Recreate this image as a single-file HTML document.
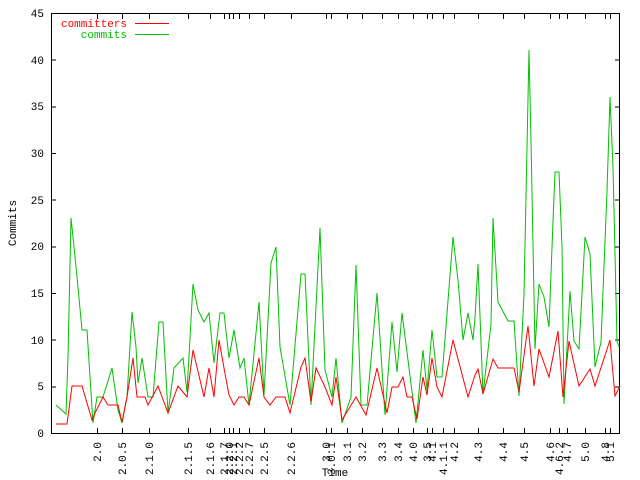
<!DOCTYPE html>
<html><head><meta charset="utf-8"><style>
html,body{margin:0;padding:0;background:#fff;}
svg{display:block;font-family:"Liberation Mono",monospace;font-size:11px;}
</style></head><body>
<svg width="640" height="480" viewBox="0 0 640 480" xmlns="http://www.w3.org/2000/svg">
<rect width="640" height="480" fill="#fff"/>
<g stroke="#000" stroke-width="1" fill="none" shape-rendering="crispEdges">
<rect x="51.5" y="13.5" width="568" height="420"/>
<path d="M51 433.5h5M51 386.8h5M51 340.2h5M51 293.5h5M51 246.8h5M51 200.2h5M51 153.5h5M51 106.8h5M51 60.2h5M51 13.5h5
M620 386.8h-5M620 340.2h-5M620 293.5h-5M620 246.8h-5M620 200.2h-5M620 153.5h-5M620 106.8h-5M620 60.2h-5"/>
<path d="M97.5 433v-5M122.5 433v-5M149.5 433v-5M188.5 433v-5M210.5 433v-5M224.5 433v-5M229.5 433v-5M233.5 433v-5M239.5 433v-5M249.5 433v-5M264.5 433v-5M291.5 433v-5M326.5 433v-5M331.5 433v-5M347.5 433v-5M362.5 433v-5M382.5 433v-5M398.5 433v-5M413.5 433v-5M427.5 433v-5M432.5 433v-5M443.5 433v-5M454.5 433v-5M478.5 433v-5M503.5 433v-5M524.5 433v-5M550.5 433v-5M559.5 433v-5M567.5 433v-5M585.5 433v-5M605.5 433v-5M610.5 433v-5
M97.5 14v5M122.5 14v5M149.5 14v5M188.5 14v5M210.5 14v5M224.5 14v5M229.5 14v5M233.5 14v5M239.5 14v5M249.5 14v5M264.5 14v5M291.5 14v5M326.5 14v5M331.5 14v5M347.5 14v5M362.5 14v5M382.5 14v5M398.5 14v5M413.5 14v5M427.5 14v5M432.5 14v5M443.5 14v5M454.5 14v5M478.5 14v5M503.5 14v5M524.5 14v5M550.5 14v5M559.5 14v5M567.5 14v5M585.5 14v5M605.5 14v5M610.5 14v5"/>
</g>
<g text-anchor="end" fill="#000">
<text x="44" y="437">0</text><text x="44" y="390">5</text><text x="44" y="344">10</text><text x="44" y="297">15</text><text x="44" y="250">20</text><text x="44" y="204">25</text><text x="44" y="157">30</text><text x="44" y="110">35</text><text x="44" y="64">40</text><text x="44" y="17">45</text>
</g>
<g text-anchor="end" fill="#000">
<text transform="translate(101,442) rotate(-90)">2.0</text>
<text transform="translate(126,442) rotate(-90)">2.0.5</text>
<text transform="translate(153,442) rotate(-90)">2.1.0</text>
<text transform="translate(192,442) rotate(-90)">2.1.5</text>
<text transform="translate(214,442) rotate(-90)">2.1.6</text>
<text transform="translate(228,442) rotate(-90)">2.1.7</text>
<text transform="translate(233,442) rotate(-90)">2.2.0</text>
<text transform="translate(237,442) rotate(-90)">2.2.1</text>
<text transform="translate(243,442) rotate(-90)">2.2.2</text>
<text transform="translate(253,442) rotate(-90)">2.2.7</text>
<text transform="translate(268,442) rotate(-90)">2.2.5</text>
<text transform="translate(295,442) rotate(-90)">2.2.6</text>
<text transform="translate(330,442) rotate(-90)">3.0</text>
<text transform="translate(335,442) rotate(-90)">3.0.1</text>
<text transform="translate(351,442) rotate(-90)">3.1</text>
<text transform="translate(366,442) rotate(-90)">3.2</text>
<text transform="translate(386,442) rotate(-90)">3.3</text>
<text transform="translate(402,442) rotate(-90)">3.4</text>
<text transform="translate(417,442) rotate(-90)">4.0</text>
<text transform="translate(431,442) rotate(-90)">3.5</text>
<text transform="translate(436,442) rotate(-90)">4.1</text>
<text transform="translate(447,442) rotate(-90)">4.1.1</text>
<text transform="translate(458,442) rotate(-90)">4.2</text>
<text transform="translate(482,442) rotate(-90)">4.3</text>
<text transform="translate(507,442) rotate(-90)">4.4</text>
<text transform="translate(528,442) rotate(-90)">4.5</text>
<text transform="translate(554,442) rotate(-90)">4.6</text>
<text transform="translate(563,442) rotate(-90)">4.6.2</text>
<text transform="translate(571,442) rotate(-90)">4.7</text>
<text transform="translate(589,442) rotate(-90)">5.0</text>
<text transform="translate(609,442) rotate(-90)">4.8</text>
<text transform="translate(614,442) rotate(-90)">5.1</text>
</g>
<text x="335" y="476" text-anchor="middle">Time</text>
<text transform="translate(16,223) rotate(-90)" text-anchor="middle">Commits</text>
<g fill="none" stroke-width="1">
<polyline stroke="#00c000" points="56,405 66,414 68,357 71,218 73,237 77,277 82,330 87,330 90,377 93,423 97,397 103,397 112,368 118,410 122,423 127,397 132,312 136,347 138,383 142,358 148,397 153,397 159,322 163,322 168,413 174,368 183,358 187,392 193,284 198,310 204,322 209,313 214,363 220,313 224,313 229,358 234,330 240,368 244,358 249,405 259,302 264,395 271,263 276,247 280,347 290,405 301,274 305,274 311,405 320,228 325,370 332,397 336,358 342,423 351,397 356,265 361,405 367,405 377,293 385,415 392,322 397,372 402,313 416,423 423,350 427,390 432,330 437,377 442,377 453,237 458,280 463,340 468,313 473,340 475,318 478,264 483,394 491,324 493,218 498,302 508,321 514,321 519,396 524,294 529,50 531,141 535,349 539,284 544,297 549,327 553,221 555,172 559,172 562,247 564,404 570,291 574,341 579,349 585,237 590,254 595,367 601,342 607,191 610,97 613,167 617,341 619,347"/>
<polyline stroke="#ff0000" points="56,424 67,424 72,386 82,386 92,420 95,413 103,397 108,405 118,405 122,422 127,397 133,358 137,397 145,397 148,405 158,386 168,413 178,386 187,397 193,350 204,397 209,368 214,397 219,340 224,368 229,395 234,405 239,397 244,397 249,405 259,358 264,397 270,405 276,397 285,397 290,413 301,367 305,358 311,402 316,368 325,387 332,405 336,377 342,420 356,397 366,415 377,368 387,413 392,387 398,387 403,377 407,397 412,397 417,419 423,377 427,395 432,358 437,387 442,397 453,340 468,397 475,375 478,369 483,394 493,359 498,368 514,368 519,392 528,326 534,386 539,349 549,377 558,331 563,397 569,341 579,386 590,369 595,386 610,340 615,396 620,386"/>
</g>
<text x="127" y="27" text-anchor="end" fill="#ff0000">committers</text>
<line x1="135" y1="23.5" x2="169" y2="23.5" stroke="#ff0000"/>
<text x="127" y="38" text-anchor="end" fill="#00c000">commits</text>
<line x1="135" y1="34.5" x2="169" y2="34.5" stroke="#00c000"/>
</svg>
</body></html>
